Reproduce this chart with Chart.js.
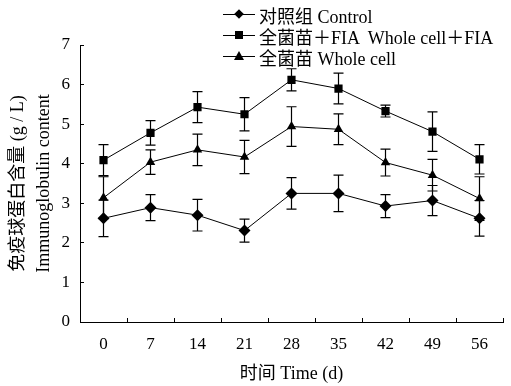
<!DOCTYPE html>
<html>
<head>
<meta charset="utf-8">
<script src="https://cdn.jsdelivr.net/npm/chart.js@4/dist/chart.umd.min.js"></script>
<style>
  html, body { margin: 0; padding: 0; background: #fff; }
  #wrap { position: relative; width: 511px; height: 386px; }
  #legend { position: absolute; left: 223px; top: 4px; font-family: 'Liberation Serif', 'Noto Sans CJK SC', serif; font-size: 18px; color: #000; }
  .item { display: flex; align-items: center; height: 21px; white-space: pre; }
  .sym { position: relative; width: 32px; height: 21px; margin-right: 4px; }
  .sym::before { content: ''; position: absolute; left: 0; right: 0; top: 10px; border-top: 1px solid #000; }
  .mk { position: absolute; left: 12px; top: 6px; width: 8px; height: 8px; background: #000; }
  .mk.dia { transform: rotate(45deg) scale(0.85); }
  .mk.tri { background: none; width: 0; height: 0; left: 11px; top: 5px; border-left: 5px solid transparent; border-right: 5px solid transparent; border-bottom: 9px solid #000; }
</style>
</head>
<body>
<div id="wrap">
  <canvas id="chart"></canvas>
  <div id="legend">
    <div class="item"><span class="sym"><span class="mk dia"></span></span>对照组 Control</div>
    <div class="item"><span class="sym"><span class="mk"></span></span>全菌苗＋FIA  Whole cell＋FIA</div>
    <div class="item"><span class="sym"><span class="mk tri"></span></span>全菌苗 Whole cell</div>
  </div>
</div>
<script>
  const days = ['0', '7', '14', '21', '28', '35', '42', '49', '56'];
  const control = [2.62, 2.89, 2.70, 2.31, 3.25, 3.25, 2.93, 3.07, 2.62];
  const controlErr = [0.46, 0.33, 0.40, 0.29, 0.40, 0.46, 0.29, 0.38, 0.45];
  const wholeFia = [4.09, 4.78, 5.43, 5.25, 6.12, 5.90, 5.33, 4.81, 4.11];
  const wholeFiaErr = [0.39, 0.31, 0.39, 0.42, 0.28, 0.39, 0.15, 0.50, 0.37];
  const wholeCell = [3.14, 4.04, 4.35, 4.17, 4.94, 4.87, 4.03, 3.71, 3.12];
  const wholeCellErr = [0.53, 0.31, 0.40, 0.42, 0.50, 0.39, 0.34, 0.40, 0.55];

  const FONT = "'Liberation Serif', 'Noto Sans CJK SC', serif";

  // error bars drawn through the scales, under the markers
  const errorBars = {
    id: 'errorBars',
    beforeDatasetsDraw(chart) {
      const { ctx, scales: { x, y } } = chart;
      ctx.save();
      ctx.strokeStyle = '#000';
      ctx.lineWidth = 1.2;
      chart.data.datasets.forEach(ds => {
        ds.data.forEach((v, i) => {
          const px = x.getPixelForValue(i);
          const top = y.getPixelForValue(v + ds.err[i]);
          const bot = y.getPixelForValue(v - ds.err[i]);
          ctx.beginPath();
          ctx.moveTo(px, top); ctx.lineTo(px, bot);
          ctx.moveTo(px - 5, top); ctx.lineTo(px + 5, top);
          ctx.moveTo(px - 5, bot); ctx.lineTo(px + 5, bot);
          ctx.stroke();
        });
      });
      ctx.restore();
    }
  };

  function series(label, data, err, style, radius) {
    return {
      label, data, err,
      borderColor: '#000',
      backgroundColor: '#000',
      borderWidth: 1,
      pointStyle: style,
      pointRadius: radius,
      pointBackgroundColor: '#000',
      pointBorderWidth: 0,
      tension: 0
    };
  }

  new Chart(document.getElementById('chart'), {
    type: 'line',
    data: {
      labels: days,
      datasets: [
        series('对照组 Control', control, controlErr, 'rectRot', 6),
        series('全菌苗＋FIA Whole cell＋FIA', wholeFia, wholeFiaErr, 'rect', 5.8),
        series('全菌苗 Whole cell', wholeCell, wholeCellErr, 'triangle', 5.5)
      ]
    },
    options: {
      responsive: true,
      maintainAspectRatio: false,
      animation: false,
      layout: { padding: { left: 0, top: 45, right: 8, bottom: 0 } },
      plugins: { legend: { display: false }, tooltip: { enabled: false } },
      scales: {
        x: {
          offset: true,
          grid: { offset: true, drawOnChartArea: false, tickLength: -4, color: '#000' },
          border: { color: '#000', width: 1 },
          ticks: { color: '#000', padding: 16, font: { family: FONT, size: 17 } },
          title: { display: true, text: '时间 Time (d)', color: '#000', font: { family: FONT, size: 18 }, padding: { top: 0, bottom: 1 } },
          afterFit: s => { s.height = 64; }
        },
        y: {
          min: 0,
          max: 7,
          grid: { drawOnChartArea: false, tickLength: -4, color: '#000' },
          border: { color: '#000', width: 1 },
          ticks: { stepSize: 1, color: '#000', padding: 14, font: { family: FONT, size: 17 } },
          title: {
            display: true,
            text: ['免疫球蛋白含量 (g / L)', 'Immunoglobulin content'],
            color: '#000',
            font: { family: FONT, size: 18, lineHeight: 1.45 },
            padding: { top: 5, bottom: 0 }
          },
          afterFit: s => { s.width = 80; }
        }
      }
    },
    plugins: [errorBars]
  });
</script>
</body>
</html>
